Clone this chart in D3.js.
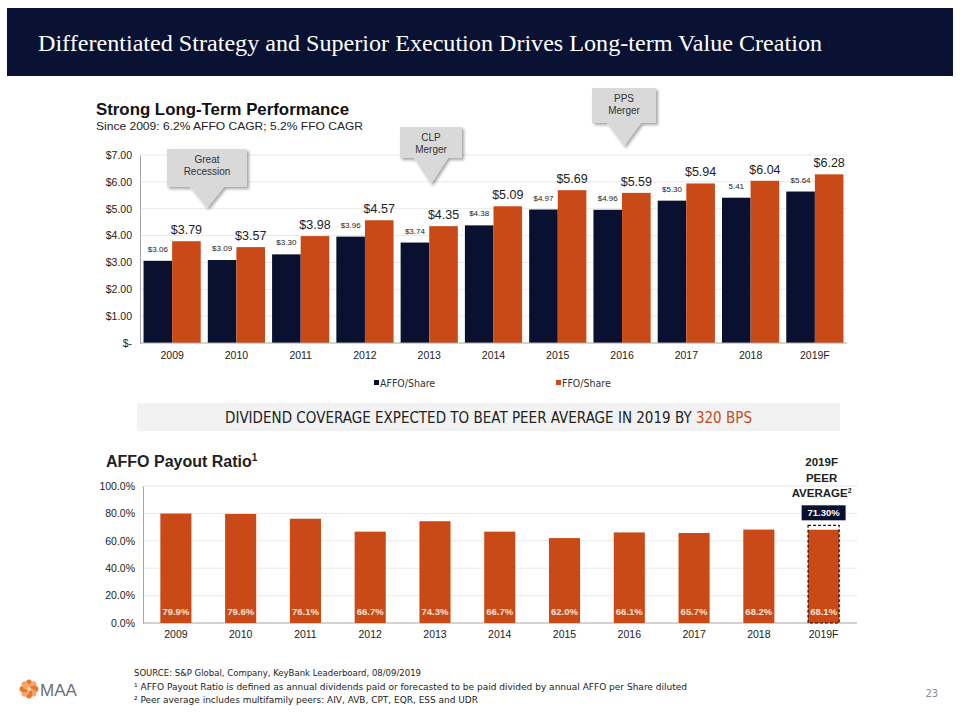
<!DOCTYPE html>
<html><head><meta charset="utf-8">
<script src="https://cdn.jsdelivr.net/npm/d3@7"></script>
<style>
body{margin:0;background:#fff;}
svg{display:block;}
</style></head>
<body><svg id="c" width="960" height="720"></svg>
<script>
// ---- data ----
const years = ["2009","2010","2011","2012","2013","2014","2015","2016","2017","2018","2019F"];
const affoPerShare = [3.06,3.09,3.30,3.96,3.74,4.38,4.97,4.96,5.30,5.41,5.64];
const affoLabels = ["$3.06","$3.09","$3.30","$3.96","$3.74","$4.38","$4.97","$4.96","$5.30","5.41","$5.64"];
const ffoPerShare = [3.79,3.57,3.98,4.57,4.35,5.09,5.69,5.59,5.94,6.04,6.28];
const dollarTicks = [0,1,2,3,4,5,6,7];
const payoutRatio = [79.9,79.6,76.1,66.7,74.3,66.7,62.0,66.1,65.7,68.2,68.1];
const pctTicks = [0,20,40,60,80,100];
const peerAverage2019 = 71.3;
const callouts = [
  {year:"2009", lines:["Great","Recession"]},
  {year:"2013", lines:["CLP","Merger"]},
  {year:"2016", lines:["PPS","Merger"]}
];

(function(){
const NAVY = "#0a1030", ORANGE = "#c94a17", GRID = "#e8e8e8", AX = "#a6a6a6";
const SANS = "'Liberation Sans', Arial, sans-serif";
const NARROW = "'Liberation Sans Narrow','DejaVu Sans Condensed', sans-serif";
const svg = d3.select("#c");

// ---- header ----
svg.append("rect").attr("x",7).attr("y",8).attr("width",946).attr("height",68).attr("fill","#0a1233");
svg.append("text").attr("x",38).attr("y",51).attr("fill","#fff")
  .attr("font-family","'Liberation Serif','Times New Roman',serif").attr("font-size",24)
  .attr("textLength",784).attr("lengthAdjust","spacingAndGlyphs")
  .text("Differentiated Strategy and Superior Execution Drives Long-term Value Creation");

// ---- top chart ----
svg.append("text").attr("x",96).attr("y",115).attr("font-family",SANS).attr("font-weight","bold")
  .attr("font-size",16.5).attr("fill","#111").attr("textLength",253).attr("lengthAdjust","spacingAndGlyphs")
  .text("Strong Long-Term Performance");
svg.append("text").attr("x",96).attr("y",130).attr("font-family",SANS)
  .attr("font-size",11.5).attr("fill","#222").attr("textLength",267).attr("lengthAdjust","spacingAndGlyphs")
  .text("Since 2009: 6.2% AFFO CAGR; 5.2% FFO CAGR");

const x1 = d3.scaleBand().domain(years).range([140,847]).paddingInner(0.11).paddingOuter(0.055);
const y1 = d3.scaleLinear().domain([0,7]).range([343,155]);
const sub = d3.scaleBand().domain(["affo","ffo"]).range([0,x1.bandwidth()]);

const g1 = svg.append("g");
g1.selectAll("line.grid").data(dollarTicks.slice(1)).join("line")
  .attr("x1",140).attr("x2",847).attr("y1",d=>y1(d)).attr("y2",d=>y1(d)).attr("stroke",GRID);
const yAx1 = d3.axisLeft(y1).tickValues(dollarTicks).tickSize(0).tickPadding(8)
  .tickFormat(d=> d===0 ? "$-" : d3.format("$.2f")(d));
const ya1 = svg.append("g").attr("transform","translate(140,0)").call(yAx1);
ya1.select(".domain").attr("stroke",AX);
ya1.selectAll("text").attr("font-family",SANS).attr("font-size",10.5).attr("fill","#222");
const xAx1 = d3.axisBottom(x1).tickSize(0).tickPadding(9);
const xa1 = svg.append("g").attr("transform","translate(0,343)").call(xAx1);
xa1.select(".domain").attr("stroke",AX).attr("d","M140,0H847");
xa1.selectAll("text").attr("font-family",SANS).attr("font-size",10.5).attr("fill","#222");

const topData = years.map((y,i)=>({y, a:affoPerShare[i], al:affoLabels[i], f:ffoPerShare[i]}));
g1.selectAll("rect.affo").data(topData).join("rect")
  .attr("x",d=>x1(d.y)+sub("affo")).attr("width",sub.bandwidth())
  .attr("y",d=>y1(d.a)).attr("height",d=>y1(0)-y1(d.a)).attr("fill",NAVY);
g1.selectAll("rect.ffo").data(topData).join("rect")
  .attr("x",d=>x1(d.y)+sub("ffo")).attr("width",sub.bandwidth())
  .attr("y",d=>y1(d.f)).attr("height",d=>y1(0)-y1(d.f)).attr("fill",ORANGE);
g1.selectAll("text.al").data(topData).join("text")
  .attr("x",d=>x1(d.y)+sub("affo")+sub.bandwidth()/2).attr("y",d=>y1(d.a)-9)
  .attr("text-anchor","middle").attr("font-family",SANS).attr("font-size",8).attr("fill","#222").text(d=>d.al);
g1.selectAll("text.fl").data(topData).join("text")
  .attr("x",d=>x1(d.y)+sub("ffo")+sub.bandwidth()/2).attr("y",d=>y1(d.f)-7)
  .attr("text-anchor","middle").attr("font-family",SANS).attr("font-size",12.5).attr("fill","#222")
  .text(d=>d3.format("$.2f")(d.f));

// legend
const leg = [{t:"AFFO/Share",c:NAVY,x:374},{t:"FFO/Share",c:ORANGE,x:556}];
leg.forEach(l=>{
  svg.append("rect").attr("x",l.x).attr("y",380).attr("width",5).attr("height",5).attr("fill",l.c);
  svg.append("text").attr("x",l.x+6).attr("y",387).attr("font-family",NARROW).attr("font-size",10.5)
    .attr("fill","#333").text(l.t);
});

// callouts
const defs = svg.append("defs");
const f = defs.append("filter").attr("id","sh").attr("x","-20%").attr("y","-20%").attr("width","150%").attr("height","150%");
f.append("feDropShadow").attr("dx",2).attr("dy",2).attr("stdDeviation",1.5).attr("flood-color","#000").attr("flood-opacity",0.35);
const calloutGeom = {"2009":{bx:167,by:149,bw:80,bh:38,tip:208},
                     "2013":{bx:400,by:127,bw:62,bh:31,tip:184},
                     "2016":{bx:592,by:88,bw:64,bh:35,tip:146}};
callouts.forEach(c=>{
  const g = calloutGeom[c.year];
  const cx = g.bx+g.bw/2;
  const p = d3.path();
  p.moveTo(g.bx,g.by); p.lineTo(g.bx+g.bw,g.by); p.lineTo(g.bx+g.bw,g.by+g.bh);
  p.lineTo(cx+17,g.by+g.bh); p.lineTo(cx,g.tip); p.lineTo(cx-17,g.by+g.bh);
  p.lineTo(g.bx,g.by+g.bh); p.closePath();
  svg.append("path").attr("d",p.toString()).attr("fill","#d9d9d9").attr("filter","url(#sh)");
  c.lines.forEach((ln,i)=>{
    svg.append("text").attr("x",cx).attr("y",g.by+14+i*12).attr("text-anchor","middle")
      .attr("font-family",SANS).attr("font-size",10).attr("fill","#333").text(ln);
  });
});

// ---- banner ----
svg.append("rect").attr("x",137).attr("y",403).attr("width",703).attr("height",28).attr("fill","#f2f2f2");
const bt = svg.append("text").attr("x",225).attr("y",423).attr("font-family",NARROW).attr("font-size",15)
  .attr("fill","#222").attr("textLength",527).attr("lengthAdjust","spacingAndGlyphs");
bt.append("tspan").text("DIVIDEND COVERAGE EXPECTED TO BEAT PEER AVERAGE IN 2019 BY ");
bt.append("tspan").attr("fill",ORANGE).text("320 BPS");

// ---- bottom chart ----
const t2 = svg.append("text").attr("x",106).attr("y",467).attr("font-family",SANS).attr("font-weight","bold")
  .attr("font-size",16).attr("fill","#222");
t2.append("tspan").text("AFFO Payout Ratio");
t2.append("tspan").attr("font-size",10).attr("dy",-6).text("1");

const x2 = d3.scaleBand().domain(years).range([143.5,856]).paddingInner(0.52).paddingOuter(0.26);
const y2 = d3.scaleLinear().domain([0,100]).range([623,486]);
svg.selectAll("line.g2").data(pctTicks.slice(1)).join("line")
  .attr("x1",143).attr("x2",857).attr("y1",d=>y2(d)).attr("y2",d=>y2(d)).attr("stroke",GRID);
const ya2 = svg.append("g").attr("transform","translate(143,0)")
  .call(d3.axisLeft(y2).tickValues(pctTicks).tickSize(0).tickPadding(8).tickFormat(d=>d.toFixed(1)+"%"));
ya2.select(".domain").attr("stroke",AX);
ya2.selectAll("text").attr("font-family",SANS).attr("font-size",10.5).attr("fill","#222");
const xa2 = svg.append("g").attr("transform","translate(0,623)").call(d3.axisBottom(x2).tickSize(0).tickPadding(8));
xa2.select(".domain").attr("stroke",AX).attr("d","M143,0H857");
xa2.selectAll("text").attr("font-family",SANS).attr("font-size",10.5).attr("fill","#222");

const bot = years.map((y,i)=>({y, v:payoutRatio[i]}));
svg.selectAll("rect.pr").data(bot).join("rect")
  .attr("x",d=>x2(d.y)).attr("width",x2.bandwidth()).attr("y",d=>y2(d.v)).attr("height",d=>y2(0)-y2(d.v))
  .attr("fill",ORANGE);
svg.selectAll("text.pl").data(bot).join("text")
  .attr("x",d=>x2(d.y)+x2.bandwidth()/2).attr("y",615).attr("text-anchor","middle")
  .attr("font-family",SANS).attr("font-weight","bold").attr("font-size",9.5).attr("fill","#fbe3d8")
  .text(d=>d.v.toFixed(1)+"%");

// peer average
const px = x2("2019F"), pw = x2.bandwidth(), pcx = px+pw/2;
svg.append("rect").attr("x",px).attr("y",y2(peerAverage2019)).attr("width",pw)
  .attr("height",y2(0)-y2(peerAverage2019)).attr("fill","none").attr("stroke","#111")
  .attr("stroke-width",1.2).attr("stroke-dasharray","3,2");
svg.append("rect").attr("x",pcx-22).attr("y",y2(peerAverage2019)-20).attr("width",44).attr("height",15).attr("fill",NAVY);
svg.append("text").attr("x",pcx).attr("y",y2(peerAverage2019)-9).attr("text-anchor","middle")
  .attr("font-family",SANS).attr("font-weight","bold").attr("font-size",9.5).attr("fill","#fff")
  .text(peerAverage2019.toFixed(2)+"%");
["2019F","PEER"].forEach((s,i)=>{
  svg.append("text").attr("x",pcx-2).attr("y",466+i*16).attr("text-anchor","middle")
    .attr("font-family",SANS).attr("font-weight","bold").attr("font-size",11.5).attr("fill","#222").text(s);
});
const av = svg.append("text").attr("x",pcx-2).attr("y",497).attr("text-anchor","middle")
  .attr("font-family",SANS).attr("font-weight","bold").attr("font-size",11.5).attr("fill","#222");
av.append("tspan").text("AVERAGE");
av.append("tspan").attr("font-size",7).attr("dy",-4).text("2");

// ---- footer ----
const foot = ["SOURCE:  S&P Global, Company, KeyBank Leaderboard, 08/09/2019",
  "\u00b9 AFFO Payout Ratio is defined as annual dividends paid or forecasted to be paid divided by annual AFFO per Share diluted",
  "\u00b2 Peer average includes multifamily peers: AIV, AVB, CPT, EQR, ESS and UDR"];
const footLen = [287, 553, 344];
foot.forEach((s,i)=>{
  svg.append("text").attr("x",134).attr("y",676+i*13.5).attr("font-family",NARROW).attr("font-size",9.5)
    .attr("fill","#222").attr("textLength",footLen[i]).attr("lengthAdjust","spacingAndGlyphs").text(s);
});
svg.append("text").attr("x",938).attr("y",697).attr("text-anchor","end").attr("font-family",NARROW)
  .attr("font-size",11).attr("fill","#888").text("23");

// logo
const lg = svg.append("g").attr("transform","translate(29,689)");
d3.range(8).forEach(i=>{
  lg.append("ellipse").attr("cx",0).attr("cy",-5).attr("rx",3.2).attr("ry",4.5)
    .attr("transform",`rotate(${i*45})`).attr("fill",i%2?"#f3a66b":"#e8772e");
});
lg.append("circle").attr("r",2).attr("fill","#fbd7b8");
svg.append("text").attr("x",40).attr("y",696).attr("font-family",SANS).attr("font-size",17)
  .attr("fill","#6d6e71").text("MAA");
})();
</script></body></html>
